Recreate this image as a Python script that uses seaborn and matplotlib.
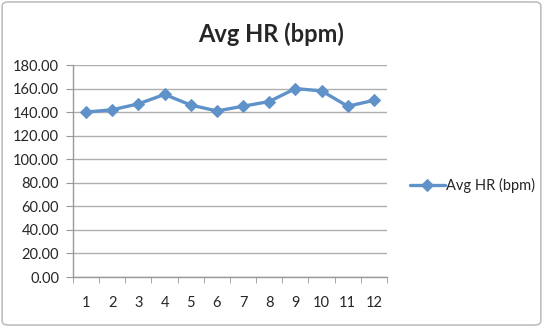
import matplotlib
matplotlib.use("Agg")
import matplotlib.pyplot as plt
from matplotlib.patches import FancyBboxPatch
from matplotlib.ticker import FixedLocator
import seaborn as sns
import pandas as pd

sessions = [1, 2, 3, 4, 5, 6, 7, 8, 9, 10, 11, 12]
avg_hr = [140, 142, 147, 155, 146, 141, 145, 149, 160, 158, 145, 150]
y_ticks = [0, 20, 40, 60, 80, 100, 120, 140, 160, 180]
series_name = "Avg HR (bpm)"
title = "Avg HR (bpm)"

sns.set_style("white")
plt.rcParams["font.family"] = ["Lato", "DejaVu Sans"]

df = pd.DataFrame({"x": sessions, "y": avg_hr, "s": series_name})

fig = plt.figure(figsize=(5.43, 3.27), dpi=100)
ax = fig.add_axes([0.1344, 0.1529, 0.7127 - 0.1344, 0.8012 - 0.1529])

color = "#6092CA"
sns.lineplot(data=df, x="x", y="y", hue="s", palette=[color], ax=ax,
             marker="D", markersize=6.5, linewidth=2.4,
             markeredgecolor=color, legend=True)

ax.set_xlim(0.5, 12.5)
ax.set_ylim(0, 180)
ax.set_yticks(y_ticks)
ax.set_yticklabels([f"{v:.2f}" for v in y_ticks])
ax.set_xticks(sessions)
ax.set_xticklabels([str(s) for s in sessions])
ax.xaxis.set_minor_locator(FixedLocator([i + 0.5 for i in range(0, 13)]))
ax.tick_params(axis="x", which="major", length=0, pad=14, labelsize=10.5)
ax.tick_params(axis="x", which="minor", length=4, color="#999999", direction="out", bottom=True)
ax.tick_params(axis="y", length=5, color="#999999", direction="out", left=True, labelsize=10.5, pad=5)
ax.set_xlabel("")
ax.set_ylabel("")
ax.grid(axis="y", color="#AFAFAF", linewidth=1)
ax.set_axisbelow(True)
for side in ["top", "right"]:
    ax.spines[side].set_visible(False)
for side in ["left", "bottom"]:
    ax.spines[side].set_color("#999999")
    ax.spines[side].set_linewidth(1)

fig.text(0.5, 0.895, title, ha="center", va="center", fontsize=17, fontweight="bold")

handles, labels = ax.get_legend_handles_labels()
ax.legend(handles, labels, loc="center left", bbox_to_anchor=(1.03, 0.43),
          frameon=False, fontsize=10.5, handlelength=2.4, handletextpad=0.1)

border = FancyBboxPatch((0.004, 0.006), 0.992, 0.988, boxstyle="round,pad=0,rounding_size=0.012",
                        transform=fig.transFigure, facecolor="none", edgecolor="#BFBFBF", linewidth=1.2)
fig.patches.append(border)

fig.savefig("out.png", dpi=100)
